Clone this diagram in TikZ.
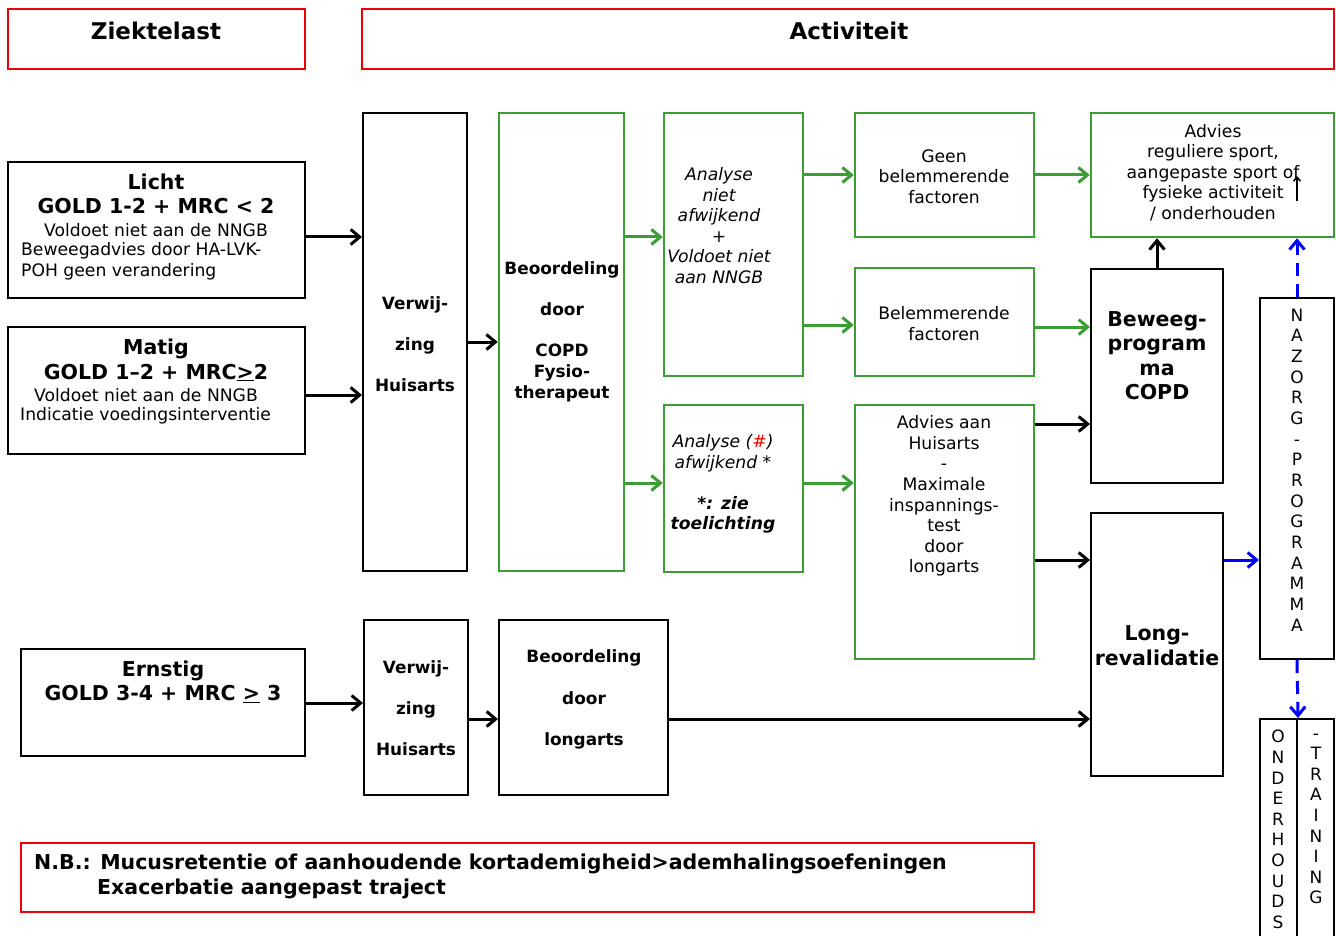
\documentclass[tikz,border=0pt]{standalone}
\usepackage{fontspec}
\setmainfont{DejaVu Sans}
\usetikzlibrary{arrows.meta,fit}
\definecolor{grn}{RGB}{58,158,52}
\definecolor{rd}{RGB}{240,0,0}
\definecolor{blu}{RGB}{0,0,255}
\begin{document}
\begin{tikzpicture}[x=1pt,y=-1pt,
  bx/.style={draw=black, line width=2pt, rectangle, inner sep=0pt},
  gbx/.style={draw=grn, line width=2.5pt, rectangle, inner sep=0pt},
  rbx/.style={draw=rd, line width=2.2pt, rectangle, inner sep=0pt},
  txt/.style={inner sep=0pt, align=center, font=\fontsize{17.2}{20.6}\selectfont},
  itxt/.style={inner sep=0pt, align=center, font=\fontsize{17.2}{20.6}\selectfont\itshape},
  btxt/.style={inner sep=0pt, align=center, font=\fontsize{16.9}{20.6}\selectfont\bfseries},
  htxt/.style={inner sep=0pt, align=center, font=\fontsize{20.5}{24.5}\selectfont\bfseries},
  ttxt/.style={inner sep=0pt, align=center, font=\fontsize{23}{27}\selectfont\bfseries},
  arr/.style={line width=3pt, -{Straight Barb[length=9pt,width=15pt]}},
  garr/.style={arr, draw=grn},
  barr/.style={arr, draw=blu},
  dbarr/.style={barr, dash pattern=on 13pt off 8pt}
]
\useasboundingbox (0,0) rectangle (1336,936);
\fill[white] (0,0) rectangle (1336,936);

% header
\node[rbx, fit={(8,9)(305,69)}] (zk) {};
\node[ttxt] (zkT) at (156,31) {Ziektelast};
\node[rbx, fit={(362,9)(1334,69)}] (act) {};
\node[ttxt] (actT) at (849,31) {Activiteit};

% left boxes
\node[bx, fit={(8,162)(305,298)}] (licht) {};
\node[htxt] (lichtH) at (156,194) {Licht\\GOLD 1-2 + MRC < 2};
\node[txt] (lichtA) at (156,230) {Voldoet niet aan de NNGB};
\node[txt, align=left, anchor=west] (lichtB) at (21,261) {Beweegadvies door HA-LVK-\\POH geen verandering};

\node[bx, fit={(8,327)(305,454)}] (matig) {};
\node[htxt] (matigH) at (156,360) {Matig\\GOLD 1–2 + MRC\underline{>}2};
\node[txt] (matigA) at (146,395) {Voldoet niet aan de NNGB};
\node[txt, anchor=west] (matigB) at (20,416) {Indicatie voedingsinterventie};

\node[bx, fit={(21,649)(305,756)}] (ernst) {};
\node[htxt] (ernstH) at (163,681.5) {Ernstig\\GOLD 3-4 + MRC \underline{>} 3};

% upper path
\node[bx, fit={(363,113)(467,571)}] (verw1) {};
\node[btxt, font=\fontsize{16.9}{41}\selectfont\bfseries] (verw1T) at (415,344) {Verwij-\\zing\\Huisarts};

\node[gbx, fit={(499,113)(624,571)}] (beo1) {};
\node[btxt] (beo1T) at (562,331.5) {Beoordeling\\[21pt]door\\[20.5pt]COPD\\Fysio-\\therapeut};

\node[gbx, fit={(664,113)(803,376)}] (an1) {};
\node[itxt] (an1T) at (719,225.5) {Analyse\\niet\\afwijkend\\\upshape+\\Voldoet niet\\aan NNGB};

\node[gbx, fit={(664,405)(803,572)}] (an2) {};
\node[itxt] (an2T) at (723,484) {Analyse (\textcolor{red}{\#})\\afwijkend *\\[20.6pt]\bfseries*: zie\\\bfseries toelichting};

\node[gbx, fit={(855,113)(1034,237)}] (geen) {};
\node[txt] (geenT) at (944,176.5) {Geen\\belemmerende\\factoren};

\node[gbx, fit={(855,268)(1034,376)}] (belem) {};
\node[txt] (belemT) at (944,323.5) {Belemmerende\\factoren};

\node[gbx, fit={(855,405)(1034,659)}] (advha) {};
\node[txt] (advhaT) at (944,496) {Advies aan\\Huisarts\\-\\Maximale\\inspannings-\\test\\door\\longarts};

\node[gbx, fit={(1091,113)(1334,237)}] (advsp) {};
\node[txt] (advspT) at (1213,172.5) {Advies\\reguliere sport,\\aangepaste sport of\\fysieke activiteit\\/ onderhouden};
\coordinate (upA) at (1297,201);
\coordinate (upB) at (1297,176);
\draw[line width=1.6pt, -{Straight Barb[length=4pt,width=7pt]}] (upA) -- (upB);

\node[bx, fit={(1091,269)(1223,483)}] (beweeg) {};
\node[htxt] (beweegT) at (1157,355.5) {Beweeg-\\program\\ma\\COPD};

\node[bx, fit={(1091,513)(1223,776)}] (longr) {};
\node[htxt] (longrT) at (1157,645.5) {Long-\\revalidatie};

\node[bx, fit={(1260,298)(1334,659)}] (nazorg) {};
\node[txt, font=\fontsize{17}{20.67}\selectfont] (nazorgT) at (1297,470) {N\\A\\Z\\O\\R\\G\\-\\P\\R\\O\\G\\R\\A\\M\\M\\A};

\node[bx, fit={(1260,719)(1297,945)}] (ond) {};
\node[txt, font=\fontsize{17}{20.6}\selectfont] (ondT) at (1278,829.5) {O\\N\\D\\E\\R\\H\\O\\U\\D\\S};
\node[bx, fit={(1297,719)(1334,945)}] (trn) {};
\node[txt, font=\fontsize{17}{20.6}\selectfont] (trnT) at (1316,819) {-\\T\\R\\A\\I\\N\\I\\N\\G};

% lower path
\node[bx, fit={(364,620)(468,795)}] (verw2) {};
\node[btxt, font=\fontsize{16.9}{41}\selectfont\bfseries] (verw2T) at (416,708) {Verwij-\\zing\\Huisarts};
\node[bx, fit={(499,620)(668,795)}] (beo2) {};
\node[btxt, font=\fontsize{16.9}{41.5}\selectfont\bfseries] (beo2T) at (584,699.5) {Beoordeling\\door\\longarts};

% note
\node[rbx, fit={(21,843)(1034,912)}] (nb) {};
\node[htxt, anchor=west] (nb1) at (34,864) {N.B.: Mucusretentie of aanhoudende kortademigheid>ademhalingsoefeningen};
\node[htxt, anchor=west] (nb2) at (97,889) {Exacerbatie aangepast traject};

% connectors
\draw[arr] (licht.east |- 0,237) -- (verw1.west |- 0,237);
\draw[arr] (matig.east |- 0,395) -- (verw1.west |- 0,395);
\draw[arr] (verw1.east |- 0,342) -- (beo1.west |- 0,342);
\draw[garr] (beo1.east |- 0,237) -- (an1.west |- 0,237);
\draw[garr] (beo1.east |- 0,483) -- (an2.west |- 0,483);
\draw[garr] (an1.east |- 0,175) -- (geen.west |- 0,175);
\draw[garr] (an1.east |- 0,325) -- (belem.west |- 0,325);
\draw[garr] (an2.east |- 0,483) -- (advha.west |- 0,483);
\draw[garr] (geen.east |- 0,175) -- (advsp.west |- 0,175);
\draw[garr] (belem.east |- 0,327) -- (beweeg.west |- 0,327);
\draw[arr] (advha.east |- 0,424) -- (beweeg.west |- 0,424);
\draw[arr] (advha.east |- 0,560) -- (longr.west |- 0,560);
\draw[arr] (beweeg.north) -- (advsp.south -| beweeg.north);
\draw[barr] (longr.east |- 0,560) -- (nazorg.west |- 0,560);
\draw[dbarr] (nazorg.north) -- (advsp.south -| nazorg.north);
\draw[dbarr] (nazorg.south) -- (ond.north east);
\draw[arr] (ernst.east |- 0,703) -- (verw2.west |- 0,703);
\draw[arr] (verw2.east |- 0,719) -- (beo2.west |- 0,719);
\draw[arr] (beo2.east |- 0,719) -- (longr.west |- 0,719);
\end{tikzpicture}
\end{document}
